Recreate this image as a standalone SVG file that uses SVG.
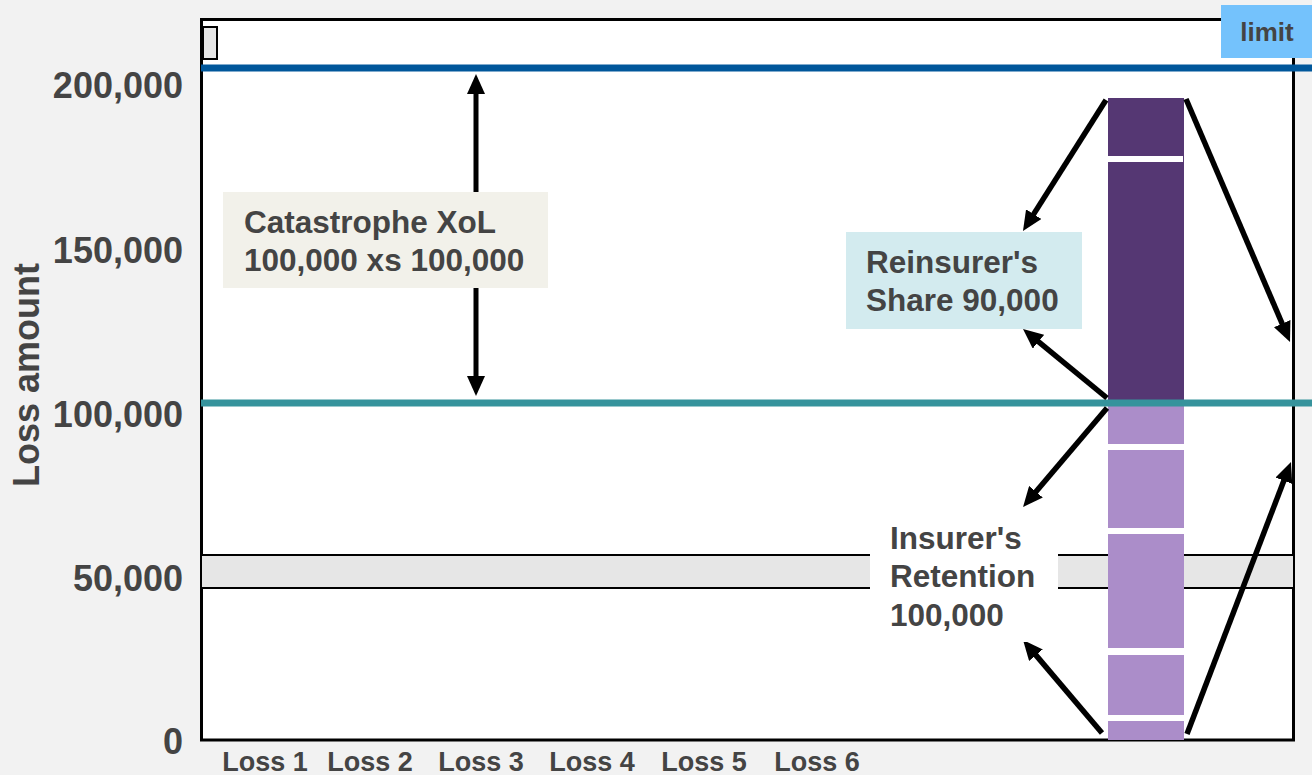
<svg xmlns="http://www.w3.org/2000/svg" width="1312" height="775" viewBox="0 0 1312 775">
<style>
.t{font-family:"Liberation Sans",Arial,sans-serif;font-weight:bold;fill:#444}
.ax{font-size:36px;text-anchor:end}
.lbl{font-size:31.5px}
.loss{font-size:27px;text-anchor:middle}
.arr{stroke:#000;stroke-width:5.5;fill:none;marker-end:url(#ah)}
.gap{fill:#fff}
</style>
<defs>
<marker id="ah" markerUnits="userSpaceOnUse" markerWidth="20" markerHeight="18" refX="8" refY="9" orient="auto-start-reverse" viewBox="0 0 20 18">
<path d="M0,0 L20,9 L0,18 z" fill="#000"/>
</marker>
</defs>
<rect width="1312" height="775" fill="#f2f2f2"/>
<g id="plot">
<rect x="201.5" y="19.5" width="1092" height="720.5" fill="#fff" stroke="#000" stroke-width="3"/>
<rect x="203" y="27" width="14" height="32" fill="#e6e6e6" stroke="#000" stroke-width="2"/>
<rect x="201" y="555" width="1093" height="33" fill="#e6e6e6" stroke="#000" stroke-width="2"/>
</g>
<g id="axis-labels">
<text class="t ax" x="183" y="98">200,000</text>
<text class="t ax" x="183" y="263">150,000</text>
<text class="t ax" x="183" y="427">100,000</text>
<text class="t ax" x="183" y="591">50,000</text>
<text class="t ax" x="183" y="754">0</text>
<text class="t" font-size="36" text-anchor="middle" transform="translate(39,375) rotate(-90)">Loss amount</text>
<text class="t loss" x="265" y="771">Loss 1</text>
<text class="t loss" x="370" y="771">Loss 2</text>
<text class="t loss" x="481" y="771">Loss 3</text>
<text class="t loss" x="592" y="771">Loss 4</text>
<text class="t loss" x="704" y="771">Loss 5</text>
<text class="t loss" x="817" y="771">Loss 6</text>
</g>
<g id="bar">
<rect x="1108" y="98" width="76" height="304" fill="#553773"/>
<rect x="1108" y="156" width="75" height="6" class="gap"/>
<rect x="1108" y="402" width="76" height="338" fill="#ab8dc9"/>
<rect x="1108" y="444" width="76" height="6" class="gap"/>
<rect x="1108" y="528" width="76" height="6" class="gap"/>
<rect x="1108" y="648" width="76" height="7" class="gap"/>
<rect x="1108" y="715" width="76" height="6" class="gap"/>
</g>
<g id="limits">
<rect x="201" y="64.5" width="1111" height="7" fill="#00579b"/>
<rect x="201" y="399.5" width="1111" height="7" fill="#36939c"/>
</g>
<g id="connectors">
<line x1="476" y1="86" x2="476" y2="384" stroke="#000" stroke-width="5" marker-start="url(#ah)" marker-end="url(#ah)"/>
<line class="arr" x1="1106" y1="100" x2="1029.4" y2="220.9"/>
<line class="arr" x1="1186" y1="99" x2="1285.3" y2="331"/>
<line class="arr" x1="1107" y1="398" x2="1032.3" y2="336.6"/>
<line class="arr" x1="1107" y1="408" x2="1030.8" y2="497.8"/>
<line class="arr" x1="1102" y1="733" x2="1030.8" y2="649.1"/>
<line class="arr" x1="1187" y1="734" x2="1286.7" y2="473.2"/>
</g>
<g id="cat-label">
<rect x="223" y="192" width="325" height="96" fill="#f2f1ea"/>
<text class="t lbl" x="244" y="233">Catastrophe XoL</text>
<text class="t lbl" x="244" y="271">100,000 xs 100,000</text>
</g>
<g id="reinsurer-label">
<rect x="846" y="232" width="236" height="97" fill="#d3ebef"/>
<text class="t lbl" x="866" y="273">Reinsurer's</text>
<text class="t lbl" x="866" y="311">Share 90,000</text>
</g>
<g id="insurer-label">
<rect x="870" y="512" width="188" height="130" fill="#fff"/>
<text class="t lbl" x="890" y="549">Insurer's</text>
<text class="t lbl" x="890" y="587">Retention</text>
<text class="t lbl" x="890" y="626">100,000</text>
</g>
<g id="limit-label">
<rect x="1221" y="5" width="91" height="53" fill="#74c2fc"/>
<text class="t" font-size="26" x="1267" y="41" text-anchor="middle">limit</text>
</g>
</svg>
